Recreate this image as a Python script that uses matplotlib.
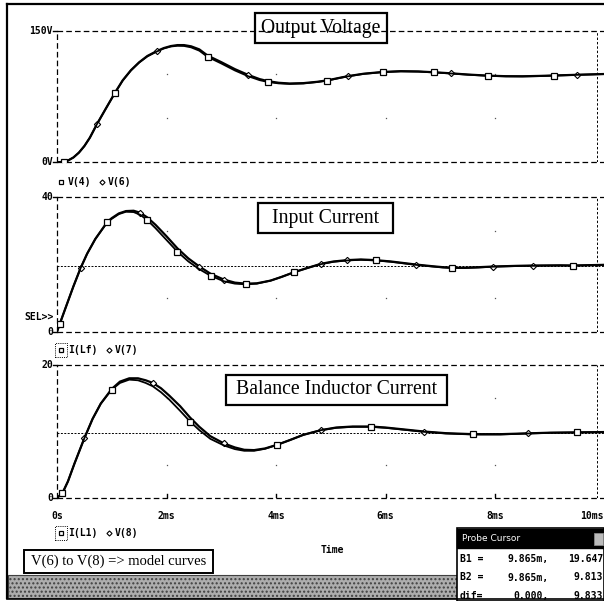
import numpy as np
import matplotlib
matplotlib.use("Agg")
import matplotlib.pyplot as plt
from matplotlib.lines import Line2D
from matplotlib.patches import Rectangle

W, H = 604, 601

# ---------------- data (time in ms) ----------------
t_top = [0, 0.12, 0.2, 0.3, 0.4, 0.5, 0.6, 0.73, 0.9, 1.06,
         1.2, 1.35, 1.5, 1.65, 1.82, 1.95, 2.08, 2.2, 2.32, 2.45,
         2.6, 2.75, 3.0, 3.25, 3.49, 3.7, 3.86, 4.05, 4.25, 4.5,
         4.75, 4.94, 5.15, 5.31, 5.6, 5.95, 6.28, 6.6, 6.88, 7.19,
         7.5, 7.88, 8.2, 8.5, 8.8, 9.07, 9.5, 10]
v4 = [0, 0.5, 2, 5.5, 11, 18.5, 28, 43.5, 62, 79,
      93, 104.5, 113.5, 120.5, 126, 129.5, 131.8, 132.6, 132.4, 130.8,
      127, 120, 112.5, 104.5, 98, 93.5, 91.3, 89.8, 89.2, 89.7,
      91.3, 93, 95.8, 97.8, 100.6, 102.6, 103.5, 103.2, 102.3, 101.1,
      99.7, 98.4, 97.8, 97.7, 98.1, 98.6, 99.5, 100.4]
v6 = [0, 0.5, 2, 5.5, 11, 18.5, 28, 43.5, 62, 79.3,
      93.3, 104.8, 113.8, 121, 126.5, 130, 132.3, 133.4, 133.4, 132,
      128.5, 121.5, 114, 106, 99.5, 94.7, 92.3, 90.5, 89.7, 90.1,
      91.6, 93.3, 96, 98, 100.8, 102.8, 103.7, 103.4, 102.5, 101.3,
      99.9, 98.6, 98, 97.9, 98.3, 98.8, 99.6, 100.5]
sq_top = [0.12, 1.06, 2.75, 3.86, 4.94, 5.95, 6.88, 7.88, 9.07]
di_top = [0.73, 1.82, 3.49, 5.31, 7.19, 9.5]

t_mid = [0, 0.05, 0.15, 0.3, 0.43, 0.55, 0.7, 0.92, 1.0, 1.13,
         1.26, 1.4, 1.52, 1.65, 1.8, 2.0, 2.2, 2.4, 2.6, 2.81,
         3.05, 3.25, 3.45, 3.65, 3.9, 4.1, 4.33, 4.6, 4.82, 5.05,
         5.3, 5.55, 5.82, 6.1, 6.35, 6.55, 6.85, 7.05, 7.22, 7.45,
         7.7, 7.97, 8.4, 8.7, 9.2, 9.43, 10]
i_lf = [0, 2.3, 6.8, 13.5, 18.9, 23.2, 27.6, 32.6, 33.6, 35.0,
        35.7, 35.6, 34.8, 33.2, 30.8, 27.3, 23.8, 20.9, 18.6, 16.6,
        15.0, 14.3, 14.1, 14.3, 15.2, 16.3, 17.7, 19.1, 20.1, 20.8,
        21.2, 21.4, 21.2, 20.8, 20.3, 19.9, 19.4, 19.1, 18.95, 18.95,
        19.1, 19.35, 19.55, 19.6, 19.7, 19.65, 19.9]
v7 = [0, 2.3, 6.8, 13.5, 18.9, 23.2, 27.6, 32.7, 33.8, 35.2,
      35.9, 36.0, 35.4, 34.0, 31.8, 28.4, 24.8, 21.8, 19.4, 17.2,
      15.5, 14.6, 14.3, 14.4, 15.2, 16.3, 17.7, 19.1, 20.2, 20.9,
      21.3, 21.5, 21.3, 20.9, 20.4, 20.0, 19.5, 19.2, 19.05, 19.05,
      19.2, 19.4, 19.6, 19.7, 19.75, 19.7, 19.9]
sq_mid = [0.05, 0.92, 1.65, 2.2, 2.81, 3.45, 4.33, 5.82, 7.22, 9.43]
di_mid = [0.43, 1.52, 2.6, 3.05, 4.82, 5.3, 6.55, 7.97, 8.7]

t_bot = [0, 0.1, 0.2, 0.32, 0.5, 0.65, 0.8, 1.0, 1.15, 1.32,
         1.48, 1.62, 1.75, 1.9, 2.05, 2.25, 2.43, 2.6, 2.8, 3.05,
         3.25, 3.42, 3.6, 3.8, 4.02, 4.25, 4.5, 4.82, 5.1, 5.4,
         5.73, 6.0, 6.35, 6.7, 7.1, 7.6, 8.1, 8.6, 9.0, 9.5, 10]
i_l1 = [0, 0.75, 2.5, 5.2, 9, 11.9, 14.2, 16.3, 17.3, 17.8,
        17.7, 17.3, 16.8, 15.9, 14.8, 13.1, 11.5, 10.2, 8.9, 7.9,
        7.35, 7.1, 7.1, 7.4, 8.0, 8.7, 9.5, 10.2, 10.55, 10.7,
        10.7, 10.55, 10.25, 9.95, 9.7, 9.55, 9.55, 9.7, 9.8, 9.85, 9.9]
v8 = [0, 0.75, 2.5, 5.2, 9, 11.9, 14.2, 16.4, 17.5, 18.0,
      18.0, 17.7, 17.3, 16.5, 15.4, 13.8, 12.1, 10.7, 9.3, 8.2,
      7.6, 7.25, 7.2, 7.45, 8.0, 8.7, 9.5, 10.2, 10.6, 10.75,
      10.75, 10.6, 10.3, 10.0, 9.75, 9.6, 9.6, 9.72, 9.82, 9.87, 9.92]
sq_bot = [0.1, 1.0, 2.43, 4.02, 5.73, 7.6, 9.5]
di_bot = [0.5, 1.75, 3.05, 4.82, 6.7, 8.6]

x_ticks = [0, 2, 4, 6, 8, 10]
x_ticklabels = ["0s", "2ms", "4ms", "6ms", "8ms", "10ms"]
cursor_t = 9.865
cursor_vals = [19.647, 9.813]
cursor_rows = [("B1 =", "9.865m,", "19.647"), ("B2 =", "9.865m,", "9.813"), ("dif=", "0.000,", "9.833")]

# ---------------- helpers ----------------
def fx(x):
    return x / W

def fy(y):
    return 1 - y / H

MONO = "DejaVu Sans Mono"
SERIF = "Liberation Serif"

fig = plt.figure(figsize=(W / 100, H / 100), dpi=100)
fig.patch.set_facecolor("white")

X0, X1 = 57, 604.5
panels = [
    dict(top=30.5, bot=162.3, ylim=(0, 150), t=t_top, a=v4, b=v6, sq=sq_top, di=di_top,
         ylab=("150V", "0V"), dots=[50, 100]),
    dict(top=197.3, bot=331.7, ylim=(0, 40), t=t_mid, a=i_lf, b=v7, sq=sq_mid, di=di_mid,
         ylab=("40", "0"), dots=[10, 30]),
    dict(top=365.0, bot=498.0, ylim=(0, 20), t=t_bot, a=i_l1, b=v8, sq=sq_bot, di=di_bot,
         ylab=("20", "0"), dots=[5, 15]),
]

axes = []
for k, p in enumerate(panels):
    ax = fig.add_axes([fx(X0), fy(p["bot"]), (X1 - X0) / W, (p["bot"] - p["top"]) / H])
    ax.set_xlim(0, 10)
    ax.set_ylim(*p["ylim"])
    ax.patch.set_alpha(0)
    for s in ax.spines.values():
        s.set_visible(False)
    ax.set_xticks([])
    ax.set_yticks([])
    lo, hi = p["ylim"]
    dash = dict(color="black", lw=0.9, dashes=(4.5, 2.5), clip_on=False)
    ax.axhline(hi, **dash)
    ax.axhline(lo, **dash)
    ax.axvline(0, **dash)
    # faint grid dots
    for gx in x_ticks[1:-1]:
        ax.plot([gx] * len(p["dots"]), p["dots"], ls="none", marker="s", ms=0.9, color="#555555", mec="none")
    # cursor
    ax.axvline(cursor_t, color="black", lw=0.7, dashes=(2.5, 2))
    if k >= 1:
        ax.axhline(cursor_vals[k - 1], color="black", lw=0.7, dashes=(2, 1.5))
    t = np.array(p["t"])
    idx_sq = [int(np.argmin(np.abs(t - v))) for v in p["sq"]]
    idx_di = [int(np.argmin(np.abs(t - v))) for v in p["di"]]
    ax.plot(t, p["b"], color="black", lw=1.6, marker="D", ms=3.2, mfc="white", mec="black",
            mew=0.8, markevery=idx_di, zorder=3, solid_joinstyle="round")
    ax.plot(t, p["a"], color="black", lw=1.3, marker="s", ms=4.2, mfc="white", mec="black",
            mew=0.9, markevery=idx_sq, zorder=4, solid_joinstyle="round")
    # left ticks
    ax.plot([-0.07, 0], [lo, lo], color="black", lw=1, clip_on=False)
    ax.plot([-0.07, 0], [hi, hi], color="black", lw=1, clip_on=False)
    fig.text(fx(53), fy(p["top"]), p["ylab"][0], ha="right", va="center", family=MONO,
             weight="bold", fontsize=7)
    fig.text(fx(53), fy(p["bot"]), p["ylab"][1], ha="right", va="center", family=MONO,
             weight="bold", fontsize=7)
    axes.append(ax)

# x tick marks on bottom axis
axb = axes[2]
for tx in x_ticks[1:-1]:
    axb.plot([tx, tx], [0, 0.55], color="black", lw=1)
for tx, lab in zip(x_ticks, x_ticklabels):
    xp = X0 + (X1 - X0) * tx / 10
    ha = "center"
    if tx == 10:
        xp, ha = 604, "right"
    fig.text(fx(xp), fy(516), lab, ha=ha, va="center", family=MONO, weight="bold", fontsize=7)

fig.text(fx(332), fy(550), "Time", ha="center", va="center", family=MONO, weight="bold", fontsize=7)
fig.text(fx(54), fy(317), "SEL>>", ha="right", va="center", family=MONO, weight="bold", fontsize=7)

# legends
legs = [(182, "V(4)", "V(6)", False), (350, "I(Lf)", "V(7)", True), (533, "I(L1)", "V(8)", True)]
for yl, n1, n2, boxed in legs:
    fig.add_artist(Line2D([fx(61)], [fy(yl)], marker="s", ms=3.5, mfc="white", mec="black",
                          mew=0.9, transform=fig.transFigure))
    fig.text(fx(68), fy(yl), n1, ha="left", va="center", family=MONO, weight="bold", fontsize=7)
    xd = 68 + 7.0 * len(n1) + 6
    fig.add_artist(Line2D([fx(xd)], [fy(yl)], marker="D", ms=2.6, mfc="white", mec="black",
                          mew=0.8, transform=fig.transFigure))
    fig.text(fx(xd + 6), fy(yl), n2, ha="left", va="center", family=MONO, weight="bold", fontsize=7)
    if boxed:
        fig.add_artist(Rectangle((fx(55), fy(yl + 7)), 12 / W, 14 / H, fill=False, ec="black",
                                 lw=0.7, ls=(0, (1, 1.2)), transform=fig.transFigure))

# title boxes (pixel rectangles)
def tbox(x0, y0, x1, y1, s, size, fc, lw=1.6):
    fig.add_artist(Rectangle((fx(x0), fy(y1)), (x1 - x0) / W, (y1 - y0) / H, fc=fc, ec="black",
                             lw=lw, transform=fig.transFigure, zorder=5))
    fig.text(fx((x0 + x1) / 2), fy((y0 + y1) / 2), s, ha="center", va="center", family=SERIF,
             fontsize=size, zorder=6)

tbox(255, 13, 387, 43, "Output Voltage", 14.2, "none")
tbox(258, 203, 393, 233, "Input Current", 14.2, "white")
tbox(226, 375, 447, 405, "Balance Inductor Current", 14.2, "white")
tbox(24, 550, 213, 573, "V(6) to V(8) => model curves", 10.5, "white", lw=1.4)

# window frame
fig.add_artist(Line2D([fx(7), fx(7)], [fy(4), fy(598)], color="black", lw=1.6, transform=fig.transFigure))
fig.add_artist(Line2D([fx(7), fx(604)], [fy(4), fy(4)], color="black", lw=1.6, transform=fig.transFigure))

# status bar
fig.add_artist(Rectangle((fx(8), fy(598)), (457 - 8) / W, 23 / H, fc="#adadad", ec="#404040",
                         lw=0.8, hatch="....", transform=fig.transFigure))
fig.add_artist(Line2D([fx(7), fx(604)], [fy(599), fy(599)], color="black", lw=1.2, transform=fig.transFigure))

# probe cursor box
fig.add_artist(Rectangle((fx(457), fy(601)), (604 - 457) / W, 73 / H, fc="white", ec="black",
                         lw=1.2, transform=fig.transFigure))
fig.add_artist(Rectangle((fx(457), fy(548)), (604 - 457) / W, 19 / H, fc="black", ec="black",
                         lw=1, transform=fig.transFigure))
fig.text(fx(462), fy(538.5), "Probe Cursor", ha="left", va="center", color="white",
         family="DejaVu Sans", fontsize=6.5)
fig.add_artist(Rectangle((fx(594), fy(545)), 9 / W, 12 / H, fc="#bbbbbb", ec="#888888",
                         lw=0.6, transform=fig.transFigure))
for r, (c1, c2, c3) in enumerate(cursor_rows):
    yr = 559 + r * 18.5
    fig.text(fx(460), fy(yr), c1, ha="left", va="center", family=MONO, weight="bold", fontsize=7)
    fig.text(fx(549), fy(yr), c2, ha="right", va="center", family=MONO, weight="bold", fontsize=7)
    fig.text(fx(603), fy(yr), c3, ha="right", va="center", family=MONO, weight="bold", fontsize=7)

fig.savefig("out.png", dpi=100)
